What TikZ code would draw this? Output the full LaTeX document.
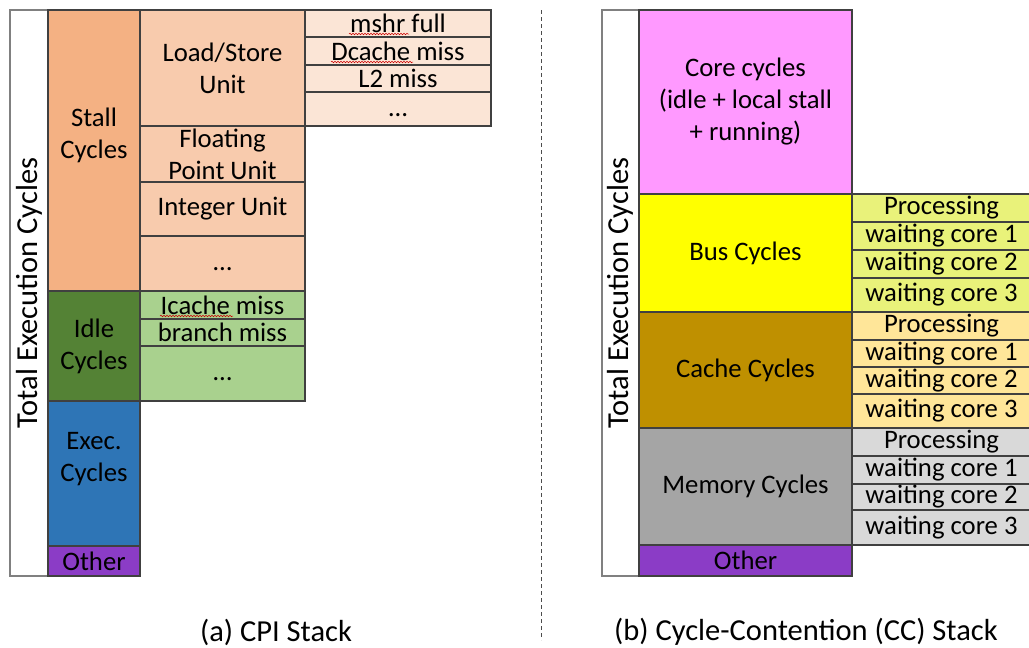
\documentclass[tikz,border=0pt]{standalone}
\usepackage{fontspec}
\setmainfont{Carlito}
\usetikzlibrary{decorations.pathmorphing}
\definecolor{stallC}{HTML}{F4B183}
\definecolor{subC}{HTML}{F8CBAD}
\definecolor{thirdC}{HTML}{FBE5D6}
\definecolor{idleC}{HTML}{548235}
\definecolor{lgreenC}{HTML}{A9D18E}
\definecolor{execC}{HTML}{2E75B6}
\definecolor{otherC}{HTML}{8B3CC6}
\definecolor{coreC}{HTML}{FF99FF}
\definecolor{busC}{HTML}{FFFF00}
\definecolor{busSubC}{HTML}{E9F27A}
\definecolor{cacheC}{HTML}{BF9000}
\definecolor{cacheSubC}{HTML}{FFE699}
\definecolor{memC}{HTML}{A5A5A5}
\definecolor{memSubC}{HTML}{D9D9D9}
\definecolor{edgeC}{HTML}{404040}
\newcommand\cellbox[7]{%
  \pgfmathsetmacro\cw{#4-#2}\pgfmathsetmacro\ch{#5-#3}%
  \node[cell,#6,minimum width=\cw pt,minimum height=\ch pt] (#1) at ({(#2+#4)/2},{(#3+#5)/2}) {#7};}
\newcommand\lowdots{\raisebox{-7pt}[0pt][0pt]{\dots}}
\tikzset{
  celltext/.style={inner sep=0pt, align=center, font=\fontsize{26.7}{32}\selectfont, text=black},
  cell/.style={celltext, draw=edgeC, line width=1.2pt, outer sep=0pt},
  labelbox/.style={draw=gray, line width=1.2pt, fill=white},
  sidelabel/.style={rotate=90, font=\fontsize{30.5}{36}\selectfont},
  caption/.style={font=\fontsize{30.5}{36}\selectfont},
  squiggle/.style={draw=red!80!black, line width=0.5pt, decorate,
    decoration={snake, amplitude=0.8pt, segment length=3pt}},
}
\begin{document}
\begin{tikzpicture}[x=1pt,y=-1pt]
\useasboundingbox (0,0) rectangle (1029,648);
% ---------- left: CPI stack ----------
\cellbox{lbl}{10}{10}{48}{576}{labelbox}{}
\node[sidelabel] (lbltext) at (lbl.center) {Total Execution Cycles};
\cellbox{stall}{48}{10}{140}{291}{fill=stallC}{}
\node[celltext] (stalltext) at ([yshift=15pt]stall.center) {Stall\\Cycles};
\cellbox{idle}{48}{291}{140}{401}{fill=idleC}{Idle\\Cycles}
\cellbox{exec}{48}{401}{140}{546}{fill=execC}{}
\node[celltext] (exectext) at ([yshift=14pt]exec.center) {Exec.\\Cycles};
\cellbox{lother}{48}{546}{140}{576}{fill=otherC}{Other}
\cellbox{lsu}{140}{10}{305}{126}{fill=subC}{Load/Store\\Unit}
\cellbox{fpu}{140}{126}{305}{182}{fill=subC}{Floating\\Point Unit}
\cellbox{iu}{140}{182}{305}{236}{fill=subC}{Integer Unit}
\cellbox{sdots}{140}{236}{305}{291}{fill=subC}{\lowdots}
\cellbox{icache}{140}{291}{305}{319}{fill=lgreenC}{Icache miss}
\cellbox{branch}{140}{319}{305}{346}{fill=lgreenC}{branch miss}
\cellbox{idots}{140}{346}{305}{401}{fill=lgreenC}{\lowdots}
\cellbox{mshr}{305}{10}{491}{37}{fill=thirdC}{mshr full}
\cellbox{dcache}{305}{37}{491}{65}{fill=thirdC}{Dcache miss}
\cellbox{ltwo}{305}{65}{491}{92}{fill=thirdC}{L2 miss}
\cellbox{ldots}{305}{92}{491}{126}{fill=thirdC}{\lowdots}
\draw[squiggle] (349,34) -- (409,34);
\draw[squiggle] (331,62) -- (413,62);
\draw[squiggle] (160,316) -- (233,316);
% ---------- divider ----------
\coordinate (dtop) at (541,10);
\coordinate (dbot) at (541,640);
\draw[dashed, line width=0.6pt, dash pattern=on 4pt off 3pt, black!70] (dtop) -- (dbot);
% ---------- right: CC stack ----------
\cellbox{rlbl}{602}{10}{639}{576}{labelbox}{}
\node[sidelabel] (rlbltext) at (rlbl.center) {Total Execution Cycles};
\cellbox{core}{639}{10}{852}{194}{fill=coreC}{Core cycles\\(idle + local stall\\+ running)}
\cellbox{bus}{639}{194}{852}{312}{fill=busC}{Bus Cycles}
\cellbox{cache}{639}{312}{852}{428}{fill=cacheC}{Cache Cycles}
\cellbox{mem}{639}{428}{852}{545}{fill=memC}{Memory Cycles}
\cellbox{rother}{639}{545}{852}{576}{fill=otherC}{Other}
\cellbox{bp}{852}{194}{1031}{222}{fill=busSubC}{Processing}
\cellbox{bw1}{852}{222}{1031}{250}{fill=busSubC}{waiting core 1}
\cellbox{bw2}{852}{250}{1031}{278}{fill=busSubC}{waiting core 2}
\cellbox{bw3}{852}{278}{1031}{312}{fill=busSubC}{waiting core 3}
\cellbox{cp}{852}{312}{1031}{340}{fill=cacheSubC}{Processing}
\cellbox{cw1}{852}{340}{1031}{367}{fill=cacheSubC}{waiting core 1}
\cellbox{cw2}{852}{367}{1031}{394}{fill=cacheSubC}{waiting core 2}
\cellbox{cw3}{852}{394}{1031}{428}{fill=cacheSubC}{waiting core 3}
\cellbox{mp}{852}{428}{1031}{456}{fill=memSubC}{Processing}
\cellbox{mw1}{852}{456}{1031}{484}{fill=memSubC}{waiting core 1}
\cellbox{mw2}{852}{484}{1031}{510}{fill=memSubC}{waiting core 2}
\cellbox{mw3}{852}{510}{1031}{545}{fill=memSubC}{waiting core 3}
% ---------- captions ----------
\node[caption] (capa) at (276,632) {(a) CPI Stack};
\node[caption] (capb) at (806,632) {(b) Cycle-Contention (CC) Stack};
\end{tikzpicture}
\end{document}
